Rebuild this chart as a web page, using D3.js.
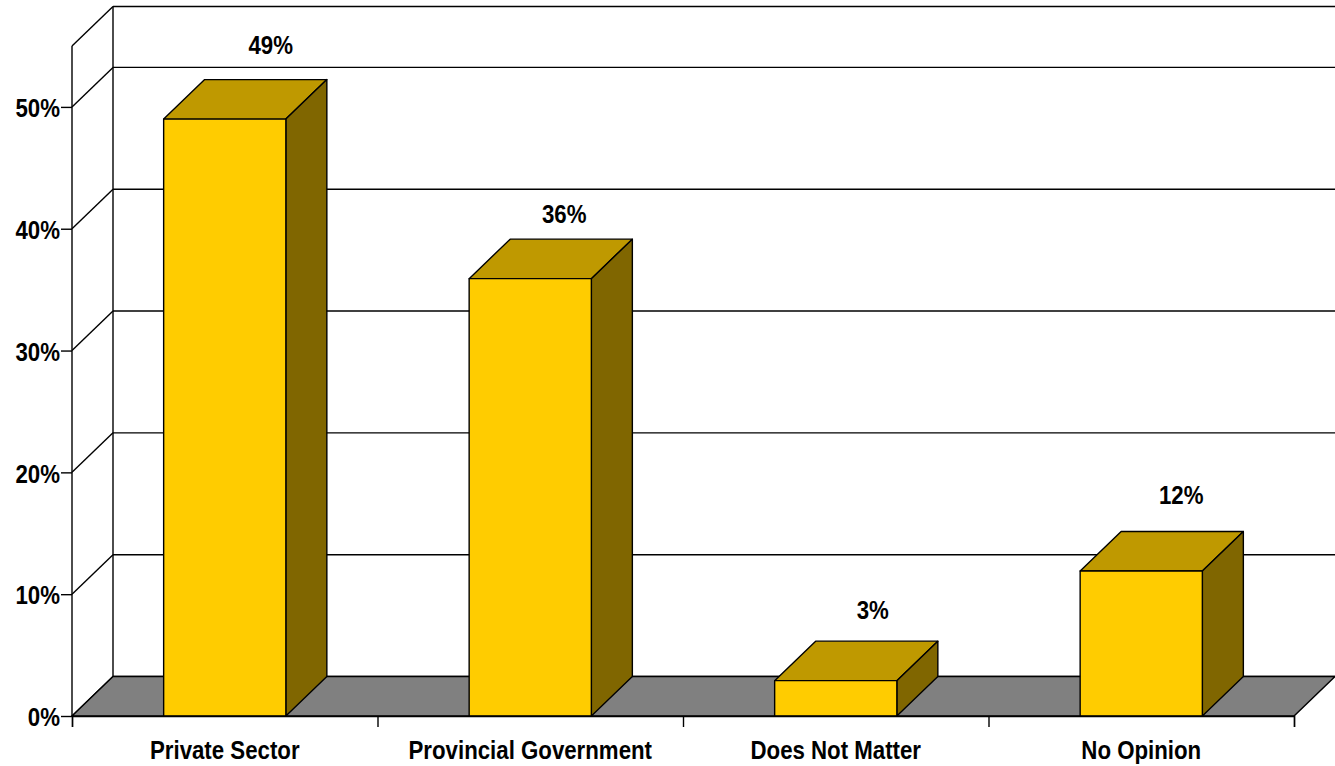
<!DOCTYPE html>
<html>
<head>
<meta charset="utf-8">
<script src="https://cdn.jsdelivr.net/npm/d3@7"></script>
<style>
  html, body { margin: 0; padding: 0; background: #fff; }
  svg { display: block; }
  text { font-family: "Liberation Sans", Arial, sans-serif; font-weight: bold; fill: #000; }
</style>
</head>
<body>
<svg id="chart"></svg>
<script>
const categories = ["Private Sector", "Provincial Government", "Does Not Matter", "No Opinion"];
const values = [49, 35.9, 2.9, 11.9];
const valueLabels = ["49%", "36%", "3%", "12%"];
const yTicks = [0, 10, 20, 30, 40, 50];

const width = 1335;
const height = 766;
const depthX = 41;   // 3d offset of the back wall
const depthY = -39.5;
const fontSize = 25;
const squeeze = 0.89; // the labels are narrower than normal Arial bold
const lineWidth = 1.4;

// the data labels don't sit in one fixed spot over the bars
const labelNudgeX = [46, 34, 37, 40];
const labelNudgeY = [-34, -25, -31, -36];

const svg = d3.select("#chart").attr("width", width).attr("height", height);

const x = d3.scaleBand().domain(categories).range([72, 1294]).paddingInner(0.6).paddingOuter(0.3);
const y = d3.scaleLinear().domain([0, 55]).range([716, 46]);
const edges = d3.scaleLinear().domain([0, categories.length]).range([72, 1294]);

const poly = pts => pts.map(p => p.join(",")).join(" ");

// back wall and gridlines
const wall = svg.append("g").attr("stroke", "#000").attr("stroke-width", lineWidth).attr("fill", "none");
wall.selectAll("line.grid")
  .data(yTicks.concat([55]))
  .enter().append("line")
  .attr("class", "grid")
  .attr("x1", 72 + depthX)
  .attr("x2", 1294 + depthX)
  .attr("y1", d => y(d) + depthY)
  .attr("y2", d => y(d) + depthY);
wall.selectAll("line.side")
  .data(yTicks.concat([55]))
  .enter().append("line")
  .attr("class", "side")
  .attr("x1", 72)
  .attr("x2", 72 + depthX)
  .attr("y1", d => y(d))
  .attr("y2", d => y(d) + depthY);
wall.append("line")
  .attr("x1", 72 + depthX).attr("x2", 72 + depthX)
  .attr("y1", y(0) + depthY).attr("y2", y(55) + depthY);
wall.append("line")
  .attr("x1", 72).attr("x2", 72)
  .attr("y1", y(0)).attr("y2", y(55));

// floor
svg.append("polygon")
  .attr("points", poly([[72, y(0)], [72 + depthX, y(0) + depthY], [1294 + depthX, y(0) + depthY], [1294, y(0)]]))
  .attr("fill", "#808080")
  .attr("stroke", "#000")
  .attr("stroke-width", lineWidth);

// bars
const bar = svg.append("g").selectAll("g")
  .data(categories.map((c, i) => ({ name: c, value: values[i], label: valueLabels[i], i })))
  .enter().append("g")
  .attr("stroke", "#000")
  .attr("stroke-width", lineWidth)
  .attr("stroke-linejoin", "round");

bar.append("polygon")
  .attr("fill", "#bf9900")
  .attr("points", d => {
    const l = x(d.name), r = l + x.bandwidth(), t = y(d.value);
    return poly([[l, t], [l + depthX, t + depthY], [r + depthX, t + depthY], [r, t]]);
  });
bar.append("polygon")
  .attr("fill", "#806600")
  .attr("points", d => {
    const r = x(d.name) + x.bandwidth(), t = y(d.value);
    return poly([[r, t], [r + depthX, t + depthY], [r + depthX, y(0) + depthY], [r, y(0)]]);
  });
bar.append("rect")
  .attr("fill", "#ffcc00")
  .attr("x", d => x(d.name))
  .attr("y", d => y(d.value))
  .attr("width", x.bandwidth())
  .attr("height", d => y(0) - y(d.value));

// value labels
svg.append("g").selectAll("text")
  .data(bar.data())
  .enter().append("text")
  .attr("text-anchor", "middle")
  .attr("dominant-baseline", "central")
  .attr("font-size", fontSize)
  .attr("transform", d => {
    const cx = x(d.name) + x.bandwidth() / 2 + labelNudgeX[d.i];
    const cy = y(d.value) + depthY + labelNudgeY[d.i];
    return `translate(${cx},${cy}) scale(${squeeze},1)`;
  })
  .text(d => d.label);

// y axis ticks and labels
const yAxis = svg.append("g")
  .attr("transform", "translate(72,0)")
  .call(d3.axisLeft(y).tickValues(yTicks).tickSize(11).tickPadding(0).tickFormat(d => d + "%"));
yAxis.select(".domain").remove();
yAxis.selectAll("line").attr("stroke", "#000").attr("stroke-width", lineWidth);
yAxis.selectAll("text")
  .attr("font-size", fontSize)
  .attr("fill", "#000")
  .attr("font-family", null)
  .attr("text-anchor", "end")
  .attr("x", null)
  .attr("dy", "0.35em")
  .attr("transform", `translate(-12,1) scale(${squeeze},1)`);

// x axis: ticks on the band edges, names in the middle of each band
const xTickAxis = svg.append("g")
  .attr("transform", `translate(0,${y(0)})`)
  .call(d3.axisBottom(edges).ticks(categories.length).tickSize(11).tickFormat(""));
xTickAxis.selectAll("line").attr("stroke", "#000").attr("stroke-width", lineWidth);
xTickAxis.select(".domain").attr("stroke", "#000").attr("stroke-width", lineWidth);

const xAxis = svg.append("g")
  .attr("transform", `translate(0,${y(0)})`)
  .call(d3.axisBottom(x).tickSize(0));
xAxis.select(".domain").remove();
xAxis.selectAll("text")
  .attr("font-size", fontSize)
  .attr("fill", "#000")
  .attr("font-family", null)
  .attr("y", null)
  .attr("dy", null)
  .attr("dominant-baseline", "central")
  .attr("transform", `translate(0,35) scale(${squeeze},1)`);
</script>
</body>
</html>
